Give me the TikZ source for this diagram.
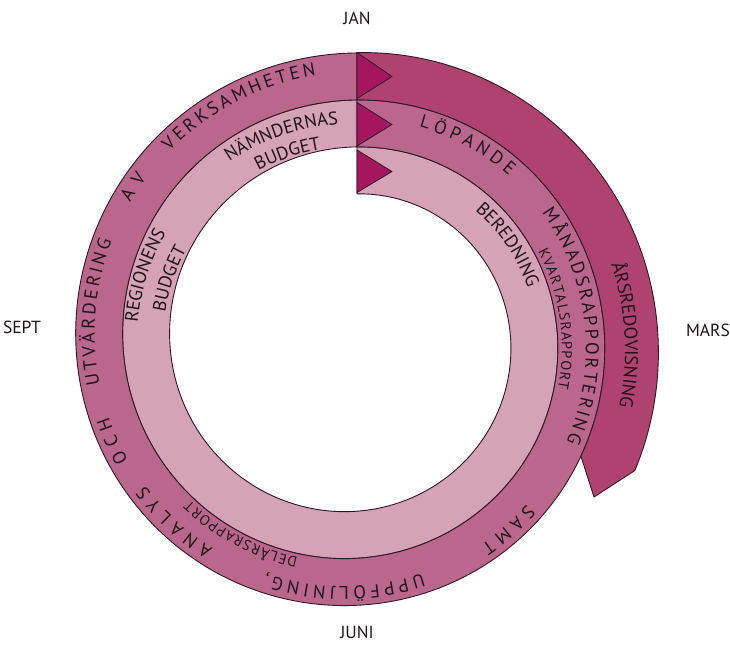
\documentclass[tikz,border=0pt]{standalone}
\usepackage{fontspec}
\setmainfont{PT Sans}
\usetikzlibrary{decorations.text}
\definecolor{bandlight}{RGB}{213,162,184}
\definecolor{bandmid}{RGB}{187,102,140}
\definecolor{banddark}{RGB}{176,66,112}
\definecolor{tri}{RGB}{166,22,96}
\definecolor{edge}{RGB}{45,25,35}
\definecolor{ink}{RGB}{30,20,25}
\newcommand\polx[2]{352+(#1)*sin(#2)}
\newcommand\poly[2]{-341+(#1)*cos(#2)}
\newcommand\bigtxt{\fontsize{18.5}{18.5}\selectfont}
\newcommand\smalltxt{\fontsize{14.5}{14.5}\selectfont}
\newcommand\monthtxt{\fontsize{17.5}{17.5}\selectfont}
\begin{document}
\begin{tikzpicture}[x=1pt,y=1pt,
  band/.style={draw=edge, line width=0.9pt, line join=round},
  flag/.style={fill=tri, draw=edge, line width=0.8pt, line join=round},
  month/.style={font=\monthtxt, text=ink, inner sep=0pt},
  spaced/.style={decorate, decoration={text along path, text align=fit to path, text color=ink, text={|\bigtxt|#1}}},
  centred/.style={decorate, decoration={text along path, text align=center, text color=ink, text={|\bigtxt|#1}}},
  smallfit/.style={decorate, decoration={text along path, text align=fit to path, text color=ink, text={|\smalltxt|#1}}}
  ]
\useasboundingbox (0,0) rectangle (730,-646);

% light band (Beredning -> budget)
\path[band, fill=bandlight]
  plot[domain=1.945:361.475, samples=200, variable=\t] ({\polx{147+0.130556*\t}{\t}},{\poly{147+0.130556*\t}{\t}})
  -- plot[domain=721.188:361.475, samples=200, variable=\t] ({\polx{147+0.130556*\t}{\t}},{\poly{147+0.130556*\t}{\t}})
  -- cycle;
% middle band (Löpande ... verksamheten)
\path[band, fill=bandmid]
  plot[domain=361.475:721.188, samples=200, variable=\t] ({\polx{147+0.130556*\t}{\t}},{\poly{147+0.130556*\t}{\t}})
  -- plot[domain=1080.994:721.188, samples=200, variable=\t] ({\polx{147+0.130556*\t}{\t}},{\poly{147+0.130556*\t}{\t}})
  -- cycle;
% outer band (Arsredovisning)
\path[band, fill=banddark]
  plot[domain=721.188:836.7, samples=80, variable=\t] ({\polx{147+0.130556*\t}{\t}},{\poly{147+0.130556*\t}{\t}})
  -- (594,-497)
  -- plot[domain=114.6:0.987, samples=80, variable=\t] ({\polx{288.2+0.2*\t}{\t}},{\poly{288.2+0.2*\t}{\t}})
  -- cycle;

% start flags
\path[flag] (357,-52.5) -- (392,-76.5) -- (357,-98.5) -- cycle;
\path[flag] (357,-102.5) -- (392,-124.5) -- (357,-146) -- cycle;
\path[flag] (357,-150) -- (392,-171.5) -- (357,-192.5) -- cycle;

% letter-spaced text in the middle band
\path[spaced={LÖPANDE}] plot[domain=17.4:43.6, samples=40, variable=\t] ({\polx{222+0.130556*\t}{\t}},{\poly{222+0.130556*\t}{\t}});
\path[spaced={MÅNADSRAPPORTERING}] plot[domain=56:115.1, samples=80, variable=\t] ({\polx{222+0.130556*\t}{\t}},{\poly{222+0.130556*\t}{\t}});
\path[spaced={SAMT}] plot[domain=133.1:147.7, samples=30, variable=\t] ({\polx{222+0.130556*\t}{\t}},{\poly{222+0.130556*\t}{\t}});
\path[spaced={UPPFÖLJNING,}] plot[domain=163.2:200.3, samples=50, variable=\t] ({\polx{222+0.130556*\t}{\t}},{\poly{222+0.130556*\t}{\t}});
\path[spaced={ANALYS}] plot[domain=213.8:235, samples=30, variable=\t] ({\polx{222+0.130556*\t}{\t}},{\poly{222+0.130556*\t}{\t}});
\path[spaced={OCH}] plot[domain=242:252.7, samples=20, variable=\t] ({\polx{222+0.130556*\t}{\t}},{\poly{222+0.130556*\t}{\t}});
\path[spaced={UTVÄRDERING}] plot[domain=260.3:292.6, samples=50, variable=\t] ({\polx{222+0.130556*\t}{\t}},{\poly{222+0.130556*\t}{\t}});
\path[spaced={AV}] plot[domain=302:308.4, samples=20, variable=\t] ({\polx{222+0.130556*\t}{\t}},{\poly{222+0.130556*\t}{\t}});
\path[spaced={VERKSAMHETEN}] plot[domain=316.1:352.3, samples=50, variable=\t] ({\polx{222+0.130556*\t}{\t}},{\poly{222+0.130556*\t}{\t}});

% small report names on the inner side of the middle band
\path[smallfit={KVARTALSRAPPORT}] plot[domain=64.3:103, samples=50, variable=\t] ({\polx{198+0.130556*\t}{\t}},{\poly{198+0.130556*\t}{\t}});
\path[smallfit={DELÅRSRAPPORT}] plot[domain=194:225.5, samples=50, variable=\t] ({\polx{198+0.130556*\t}{\t}},{\poly{198+0.130556*\t}{\t}});

% light band texts
\path[centred={BEREDNING}] plot[domain=28:88, samples=60, variable=\t] ({\polx{174+0.130556*\t}{\t}},{\poly{174+0.130556*\t}{\t}});
\path[centred={NÄMNDERNAS}] plot[domain=300:382, samples=60, variable=\t] ({\polx{217}{\t}},{\poly{217}{\t}});
\path[centred={BUDGET}] plot[domain=300:382, samples=60, variable=\t] ({\polx{194}{\t}},{\poly{194}{\t}});
\path[centred={REGIONENS}] plot[domain=247:328, samples=60, variable=\t] ({\polx{215}{\t}},{\poly{215}{\t}});
\path[centred={BUDGET}] plot[domain=249:328.6, samples=60, variable=\t] ({\polx{189}{\t}},{\poly{189}{\t}});

% outer band text
\path[centred={ÅRSREDOVISNING}] plot[domain=60:117, samples=60, variable=\t] ({\polx{258+0.1653*\t}{\t}},{\poly{258+0.1653*\t}{\t}});

% months
\node[month] (jan) at (357,-18) {JAN};
\node[month] (mars) at (708,-330) {MARS};
\node[month] (juni) at (357,-632) {JUNI};
\node[month] (sept) at (22,-327) {SEPT};
\end{tikzpicture}
\end{document}
